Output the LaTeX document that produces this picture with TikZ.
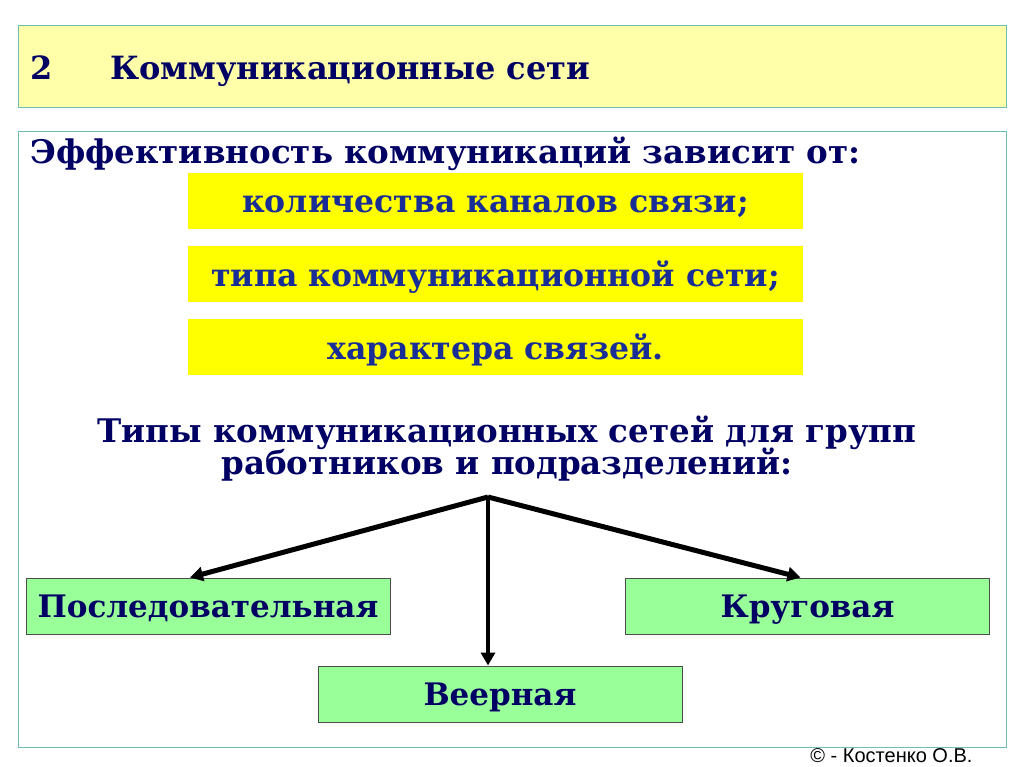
\documentclass[tikz,border=0pt]{standalone}
\usepackage{fontspec}
\setmainfont{DejaVu Serif}
\setsansfont{Liberation Sans}
\usetikzlibrary{arrows.meta}
\definecolor{navy}{RGB}{0,0,100}
\definecolor{inkblue}{RGB}{25,45,150}
\definecolor{paleyellow}{RGB}{255,255,170}
\definecolor{boxyellow}{RGB}{255,255,0}
\definecolor{boxgreen}{RGB}{153,255,153}
\definecolor{frame}{RGB}{110,190,180}
\def\fs#1{\bfseries\fontsize{#1}{#1}\selectfont}
\tikzset{
  factor/.style={fill=boxyellow, minimum width=615pt, minimum height=56pt,
    text=inkblue, font=\fs{31.5}, text height=24pt, text depth=0pt},
  kind/.style={fill=boxgreen, draw=black!70, line width=1pt,
    minimum width=364pt, minimum height=56pt, text=navy, font=\fs{31},
    text height=22pt, text depth=0pt},
  head/.style={text=navy, font=\fs{32.5}, inner sep=0pt},
  branch/.style={line width=5pt, -{Triangle[length=13pt,width=14pt]}}
}
\begin{document}
\begin{tikzpicture}[x=1pt,y=-1pt]
  \useasboundingbox (0,0) rectangle (1024,767);
  % title
  \draw[frame, fill=paleyellow, line width=1pt] (18,26) rectangle (1006,108);
  \node[head, anchor=base west, font=\fs{32}] (num) at (30,80) {2};
  \node[head, anchor=base west, font=\fs{32}] (title) at (110,80) {Коммуникационные сети};
  % main panel
  \draw[frame, fill=white, line width=1pt] (18,132) rectangle (1006,747);
  \node[head, anchor=base west] (eff) at (30,164) {Эффективность коммуникаций зависит от:};
  \node[factor] (f1) at (495.5,201) {количества каналов связи;};
  \node[factor] (f2) at (495.5,274) {типа коммуникационной сети;};
  \node[factor] (f3) at (495.5,347) {характера связей.};
  \node[head, anchor=base] (types1) at (507,442) {Типы коммуникационных сетей для групп};
  \node[head, anchor=base] (types2) at (507,474) {работников и подразделений:};
  % networks
  \coordinate (hub) at (488,497);
  \node[kind] (seq) at (208,606) {Последовательная};
  \node[kind] (ring) at (807.5,606) {Круговая};
  \node[kind] (fan) at (500,694) {Веерная};
  \draw[branch] (hub) -- ([xshift=-18pt]seq.north);
  \draw[branch, line width=3.5pt] (hub) -- ([xshift=-12pt]fan.north);
  \draw[branch] (hub) -- ([xshift=-7pt]ring.north);
  \node[anchor=base east, font=\sffamily\fontsize{20}{20}\selectfont] (copy) at (976,762) {\textcopyright{} - Костенко О.В.};
\end{tikzpicture}
\end{document}
